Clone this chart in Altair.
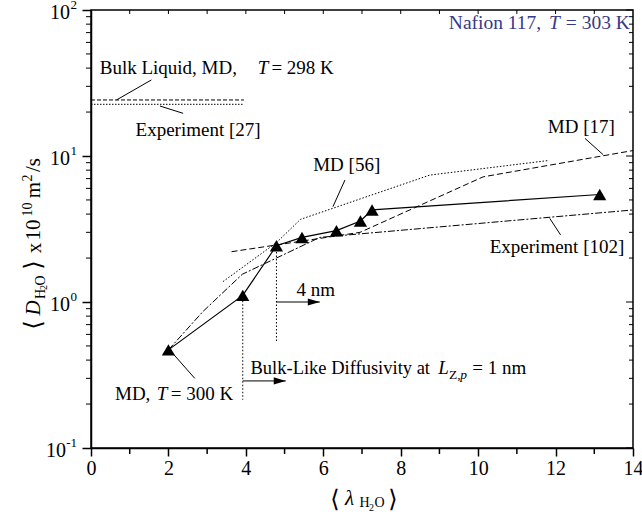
import altair as alt
import pandas as pd

FONT = "'Liberation Serif', 'Times New Roman', Times, 'DejaVu Serif', serif"
W, H = 542, 438

# Water diffusivity in Nafion 117 versus hydration level
md300_lam = [2.0, 3.92, 4.79, 5.45, 6.34, 6.96, 7.26, 13.14]
md300_D = [0.47, 1.11, 2.43, 2.77, 3.08, 3.59, 4.27, 5.45]

exp102_lam = [2.0, 2.89, 3.91, 4.79, 5.91, 14.0]
exp102_D = [0.47, 0.86, 1.55, 2.0, 2.77, 4.27]

md56_lam = [3.41, 4.79, 5.41, 8.75, 11.8]
md56_D = [1.38, 2.55, 3.68, 7.4, 9.3]

md17_lam = [3.63, 6.95, 10.13, 14.0]
md17_D = [2.21, 3.0, 7.2, 10.9]

bulk_lam = [0.0, 3.95]
bulk_md_D = [24.2, 24.2]
bulk_exp_D = [22.6, 22.6]

# hydration thresholds for bulk-like diffusivity
thresh_lam = [3.92, 4.79]
thresh_top = [1.02, 2.2]
thresh_bottom = [0.214, 0.54]
arrow_end = [5.03, 5.91]
arrow_D = [0.288, 1.0]

# axis ticks
x_ticks = [0, 2, 4, 6, 8, 10, 12, 14]
x_minor = [1, 3, 5, 7, 9, 11, 13]
x_top = list(range(1, 14))
y_ticks = [0.1, 1, 10, 100]
y_exp = ["-1", "0", "1", "2"]
y_minor = [m * 10 ** e for e in (-1, 0, 1) for m in range(2, 10)]

xs = alt.Scale(domain=[0, 14], nice=False, zero=False)
ys = alt.Scale(type="log", domain=[0.1, 100], nice=False)

AX = alt.Axis(values=x_ticks, format="d", labelFont=FONT, labelFontSize=20,
              labelColor="black", tickSize=8, tickWidth=1.5, tickColor="black",
              domainColor="black", domainWidth=1.5, labelPadding=2,
              labelFlush=False, labelOverlap=False, grid=False, title=None)
AY = alt.Axis(values=y_ticks, labels=False, tickSize=9, tickWidth=1.5,
              tickColor="black", domainColor="black", domainWidth=1.5,
              grid=False, title=None)


def X(field):
    return alt.X(field, type="quantitative", scale=xs, axis=AX)


def Y(field):
    return alt.Y(field, type="quantitative", scale=ys, axis=AY)


def series(lam, D, dash=None, width=1.0):
    kw = dict(color="black", strokeWidth=width)
    if dash:
        kw["strokeDash"] = dash
    df = pd.DataFrame({"lam": lam, "D": D})
    return alt.Chart(df).mark_line(**kw).encode(x=X("lam"), y=Y("D"))


def note(text, lam, D, size=19, style="normal", align="left",
         color="black", dy=0):
    df = pd.DataFrame({"lam": [lam], "D": [D], "t": [text]})
    return alt.Chart(df).mark_text(
        font=FONT, fontSize=size, fontStyle=style, align=align,
        baseline="middle", color=color, dy=dy
    ).encode(x=X("lam"), y=Y("D"), text="t:N")


def ptext(text, x, y, size=19.5, style="normal", angle=0):
    df = pd.DataFrame({"t": [text]})
    return alt.Chart(df).mark_text(
        font=FONT, fontSize=size, fontStyle=style, angle=angle,
        align="center", baseline="middle", color="black"
    ).encode(x=alt.value(x), y=alt.value(y), text="t:N")


def pointer(x0, y0, x1, y1):
    return series([x0, x1], [y0, y1], width=1.0)


triangles = alt.Chart(pd.DataFrame({"lam": md300_lam, "D": md300_D})).mark_point(
    shape="triangle-up", filled=True, color="black", size=175, opacity=1
).encode(x=X("lam"), y=Y("D"))

layers = [
    series(bulk_lam, bulk_md_D, dash=[4, 2]),
    series(bulk_lam, bulk_exp_D, dash=[1.5, 1.5]),
    series(md56_lam, md56_D, dash=[1.5, 1.8]),
    series(md17_lam, md17_D, dash=[6, 3]),
    series(exp102_lam, exp102_D, dash=[7, 2, 2, 2]),
    series(md300_lam, md300_D, width=1.2),
    triangles,
]

# threshold markers: dotted verticals and arrows
thr = pd.DataFrame({"lam": thresh_lam, "top": thresh_top, "bot": thresh_bottom,
                    "end": arrow_end, "D": arrow_D})
layers.append(alt.Chart(thr).mark_rule(color="black", strokeWidth=1,
                                       strokeDash=[1.5, 2]).encode(
    x=X("lam"), y=Y("top"), y2="bot:Q"))
layers.append(alt.Chart(thr).mark_rule(color="black", strokeWidth=1).encode(
    x=X("lam"), x2="end:Q", y=Y("D")))
layers.append(alt.Chart(thr).mark_point(
    shape="M -2 -0.6 L 0 0 L -2 0.6 Z", filled=True, color="black",
    size=144, opacity=1, strokeWidth=0).encode(x=X("end"), y=Y("D")))

# leader lines
layers += [
    pointer(1.56, 33.2, 0.66, 24.2),
    pointer(1.78, 22.0, 2.38, 19.6),
    pointer(6.56, 6.85, 6.25, 4.5),
    pointer(12.76, 13.2, 13.23, 10.2),
    pointer(11.85, 3.74, 12.13, 2.88),
    pointer(2.11, 0.445, 2.68, 0.30),
]

# annotations
NAVY = "#35398a"
layers += [
    note("Bulk Liquid, MD,", 0.225, 39.9),
    note("T", 4.31, 39.9, style="italic"),
    note("= 298 K", 4.66, 39.9),
    note("Experiment [27]", 1.15, 15.1),
    note("MD [56]", 5.74, 8.7),
    note("MD [17]", 11.8, 15.8),
    note("Nafion 117,", 11.63, 81.5, size=19.5, color=NAVY, align="right"),
    note("T", 11.97, 81.5, size=19.5, style="italic", color=NAVY, align="center"),
    note("= 303 K", 13.92, 81.5, size=19.5, color=NAVY, align="right"),
    note("Experiment [102]", 10.3, 2.37),
    note("4 nm", 5.31, 1.21),
    note("MD,", 0.62, 0.234),
    note("T", 1.70, 0.234, style="italic"),
    note("= 300 K", 2.06, 0.234),
    note("Bulk-Like Diffusivity at", 4.12, 0.353, size=18.5),
    note("L", 8.97, 0.353, style="italic"),
    note("Z,", 9.25, 0.316, size=13.5),
    note("p", 9.54, 0.316, size=13.5, style="italic"),
    note("= 1 nm", 9.85, 0.353),
]


# minor ticks and inward frame ticks
def yticks(vals, x0, x1):
    return alt.Chart(pd.DataFrame({"v": vals})).mark_rule(
        color="black", strokeWidth=1).encode(
        y=Y("v"), x=alt.value(x0), x2=alt.value(x1))


def xticks(vals, y0, y1, width=1.0):
    return alt.Chart(pd.DataFrame({"v": vals})).mark_rule(
        color="black", strokeWidth=width).encode(
        x=X("v"), y=alt.value(y0), y2=alt.value(y1))


layers += [
    yticks(y_minor, 0, -5),
    yticks(y_minor, W, W - 4),
    yticks(y_ticks, W, W - 7),
    xticks(x_minor, H, H + 6, width=1.5),
    xticks(x_top, 0, 4),
]

# y tick labels: 10 with exponent
ylab = pd.DataFrame({"D": y_ticks, "e": y_exp})
ylab["base"] = "10"
ylab["wide"] = [len(e) > 1 for e in y_exp]
layers.append(alt.Chart(ylab).mark_text(
    font=FONT, fontSize=13, align="right", baseline="middle", dy=-5,
    color="black").encode(y=Y("D"), x=alt.value(-14), text="e:N"))
layers.append(alt.Chart(ylab).transform_filter("!datum.wide").mark_text(
    font=FONT, fontSize=20, align="right", baseline="middle", dy=3,
    color="black").encode(y=Y("D"), x=alt.value(-21), text="base:N"))
layers.append(alt.Chart(ylab).transform_filter("datum.wide").mark_text(
    font=FONT, fontSize=20, align="right", baseline="middle", dy=3,
    color="black").encode(y=Y("D"), x=alt.value(-25), text="base:N"))

# y axis title, rotated (reads bottom to top)
layers += [
    ptext("\u27e8", -57, 315, size=24, angle=270),
    ptext("D", -57, 298, size=21, style="italic", angle=270),
    ptext("H", -50.5, 284, size=14, angle=270),
    ptext("2", -47, 277.5, size=10, angle=270),
    ptext("O", -50.5, 270.5, size=14, angle=270),
    ptext("\u27e9", -57, 255, size=24, angle=270),
    ptext("x", -56, 238, size=21, angle=270),
    ptext("10", -57, 220, size=21, angle=270),
    ptext("10", -63, 199.5, size=14, angle=270),
    ptext("m", -57, 180, size=21, angle=270),
    ptext("2", -63, 168, size=14, angle=270),
    ptext("/s", -57, 155, size=21, angle=270),
]

# x axis title
layers += [
    ptext("\u27e8", 244, 490, size=24),
    ptext("\u03bb", 258.5, 489, size=21, style="italic"),
    ptext("H", 273.5, 493, size=14),
    ptext("2", 280.5, 498, size=10),
    ptext("O", 288.5, 493, size=14),
    ptext("\u27e9", 302, 490, size=24),
]

chart = alt.layer(*layers).properties(
    width=W, height=H,
    autosize=alt.AutoSizeParams(type="none"),
    padding={"left": 91, "top": 10, "right": 9, "bottom": 70},
).configure_view(stroke="black", strokeWidth=1.5)

chart.save("out.html", embed_options={"renderer": "svg", "actions": False})
